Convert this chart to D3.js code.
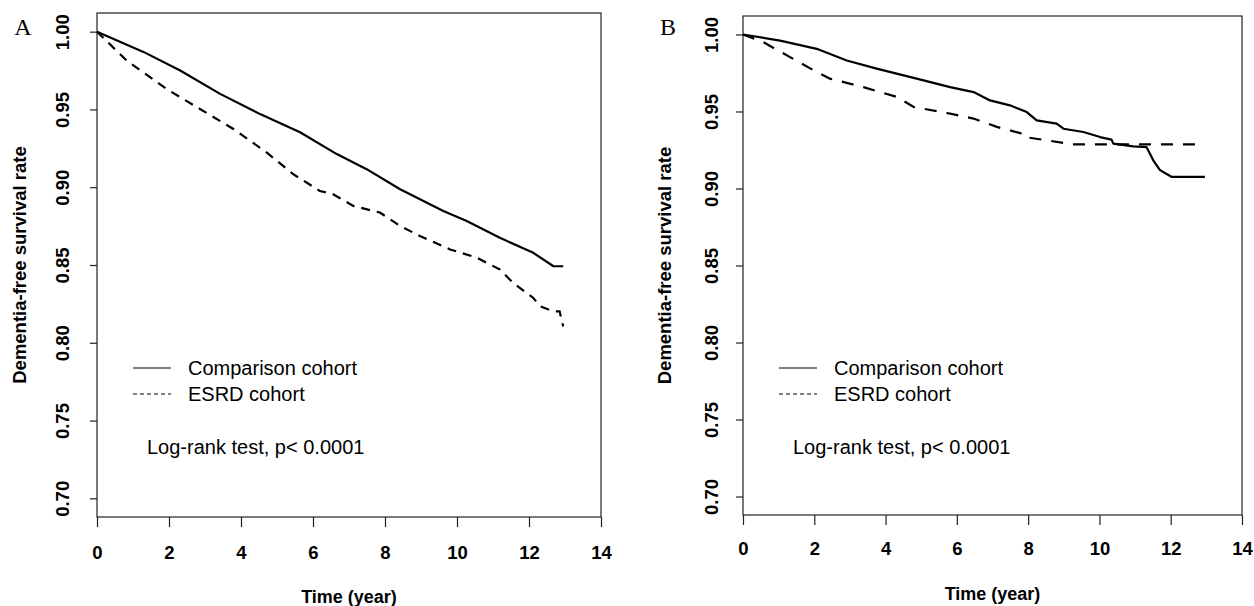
<!DOCTYPE html>
<html>
<head>
<meta charset="utf-8">
<script src="https://cdn.jsdelivr.net/npm/d3@7"></script>
<style>
  body { margin: 0; background: #fff; }
  text { font-family: "Liberation Sans", Arial, sans-serif; fill: #000; }
</style>
</head>
<body>
<script>
// Data: [time (year), dementia-free survival rate]
const xTicks = [0, 2, 4, 6, 8, 10, 12, 14];
const yTicks = [0.70, 0.75, 0.80, 0.85, 0.90, 0.95, 1.00];
const legendLabels = ["Comparison cohort", "ESRD cohort"];
const testLabel = "Log-rank test, p< 0.0001";
const yTitle = "Dementia-free survival rate";
const xTitle = "Time (year)";

// Panel A
const comparisonA = [[0, 1.0], [1.29, 0.987], [2.31, 0.975], [3.42, 0.960], [4.53, 0.947], [5.64, 0.9353],
  [6.66, 0.9213], [7.49, 0.9116], [8.42, 0.8987], [9.62, 0.8847], [10.27, 0.8783], [11.19, 0.8675],
  [12.12, 0.8578], [12.68, 0.8492], [12.95, 0.8492]];
const esrdA = [[0, 1.0], [0.82, 0.9815], [1.93, 0.9632], [2.86, 0.9503], [3.79, 0.9374], [4.71, 0.9224],
  [5.45, 0.9084], [6.19, 0.8976], [6.56, 0.8955], [7.12, 0.888], [7.86, 0.8837], [8.42, 0.8751],
  [8.97, 0.8686], [9.81, 0.860], [10.55, 0.8547], [11.19, 0.8471], [11.56, 0.8385], [12.12, 0.8288],
  [12.31, 0.8234], [12.68, 0.8202], [12.85, 0.8202], [12.95, 0.8105]];

// Panel B
const comparisonB = [[0, 1.0], [1.04, 0.996], [2.07, 0.9907], [2.91, 0.9831], [3.75, 0.9778], [4.87, 0.9713],
  [5.81, 0.9658], [6.47, 0.9626], [6.93, 0.9572], [7.49, 0.954], [7.96, 0.9496], [8.24, 0.9442],
  [8.80, 0.9421], [8.99, 0.9388], [9.55, 0.9367], [10.02, 0.9334], [10.34, 0.9317], [10.39, 0.9291],
  [10.95, 0.9274], [11.32, 0.9269], [11.51, 0.9183], [11.70, 0.9119], [12.02, 0.9076], [12.96, 0.9076]];
const esrdB = [[0, 1.0], [0.57, 0.995], [1.32, 0.9853], [2.07, 0.9756], [2.44, 0.9713], [3.38, 0.9658],
  [4.32, 0.9594], [4.79, 0.9529], [5.81, 0.9486], [6.47, 0.9454], [7.12, 0.940], [7.82, 0.9357],
  [7.87, 0.9335], [8.52, 0.9313], [9.22, 0.9287], [12.96, 0.9287]];

const width = 1254, height = 606;

const svg = d3.select("body").append("svg")
    .attr("width", width)
    .attr("height", height);

function drawPanel(p) {
    const x = d3.scaleLinear().domain([0, 14]).range([p.left, p.right]);
    const y = d3.scaleLinear().domain([0.688, 1.012]).range([p.bottom, p.top]);
    const g = svg.append("g");

    // box
    g.append("rect")
        .attr("x", p.left).attr("y", p.top)
        .attr("width", p.right - p.left).attr("height", p.bottom - p.top)
        .attr("fill", "none").attr("stroke", "#222").attr("stroke-width", 1.2);

    // bottom axis
    const xAxis = g.append("g")
        .attr("transform", "translate(0," + p.bottom + ")")
        .call(d3.axisBottom(x).tickValues(xTicks).tickSize(10).tickSizeOuter(0).tickFormat(d3.format("d")));
    xAxis.select(".domain").remove();
    xAxis.selectAll("line").attr("stroke", "#222").attr("stroke-width", 1.2);
    xAxis.selectAll("text")
        .attr("font-size", 18.5).attr("font-weight", "bold")
        .attr("font-family", "Liberation Sans, Arial, sans-serif")
        .attr("y", p.xLabelY - p.bottom).attr("dy", "0.35em");

    // left axis, labels turned upright along the axis
    const yAxis = g.append("g")
        .attr("transform", "translate(" + p.left + ",0)")
        .call(d3.axisLeft(y).tickValues(yTicks).tickSize(7).tickSizeOuter(0).tickFormat(d3.format(".2f")));
    yAxis.select(".domain").remove();
    yAxis.selectAll("line").attr("stroke", "#222").attr("stroke-width", 1.2);
    yAxis.selectAll(".tick text")
        .attr("font-size", 18.5).attr("font-weight", "bold")
        .attr("font-family", "Liberation Sans, Arial, sans-serif")
        .attr("x", 0).attr("y", 0).attr("dy", "0.35em")
        .attr("text-anchor", "middle")
        .attr("transform", "translate(" + (p.yLabelX - p.left) + ",0) rotate(-90)");

    // axis titles
    g.append("text")
        .attr("x", (p.left + p.right) / 2).attr("y", p.xTitleY)
        .attr("text-anchor", "middle").attr("dy", "0.35em")
        .attr("font-size", 18).attr("font-weight", "bold")
        .text(xTitle);
    g.append("text")
        .attr("transform", "translate(" + p.yTitleX + "," + (p.top + p.bottom) / 2 + ") rotate(-90)")
        .attr("text-anchor", "middle").attr("dy", "0.35em")
        .attr("font-size", 18.5).attr("font-weight", "bold")
        .text(yTitle);

    // panel letter
    g.append("text")
        .attr("x", p.letterX).attr("y", 27).attr("dy", "0.35em")
        .attr("text-anchor", "middle")
        .style("font-family", "Liberation Serif, Times New Roman, serif")
        .attr("font-size", 24)
        .text(p.letter);

    // curves
    const line = d3.line().x(d => x(d[0])).y(d => y(d[1]));
    g.append("path").datum(p.comparison)
        .attr("fill", "none").attr("stroke", "#000").attr("stroke-width", 2.2)
        .attr("stroke-linejoin", "round")
        .attr("d", line);
    g.append("path").datum(p.esrd)
        .attr("fill", "none").attr("stroke", "#000").attr("stroke-width", 2.2)
        .attr("stroke-dasharray", p.dash)
        .attr("d", line);

    // legend
    const lx = p.left + 36;
    const rows = [{ label: legendLabels[0], dash: null, y: p.legendY },
                  { label: legendLabels[1], dash: "4,3", y: p.legendY + 26 }];
    rows.forEach(r => {
        g.append("line")
            .attr("x1", lx).attr("x2", lx + 38)
            .attr("y1", r.y).attr("y2", r.y)
            .attr("stroke", "#000").attr("stroke-width", 1)
            .attr("stroke-dasharray", r.dash);
        g.append("text")
            .attr("x", lx + 55).attr("y", r.y).attr("dy", "0.35em")
            .attr("font-size", 20)
            .text(r.label);
    });
    g.append("text")
        .attr("x", p.left + 50).attr("y", p.legendY + 79).attr("dy", "0.35em")
        .attr("font-size", 20)
        .text(testLabel);
}

drawPanel({ letter: "A", letterX: 23, left: 97, right: 601, top: 13, bottom: 517,
    xLabelY: 553, yLabelX: 63, xTitleY: 597, yTitleX: 20, legendY: 368, dash: "9,7",
    comparison: comparisonA, esrd: esrdA });
drawPanel({ letter: "B", letterX: 668, left: 743, right: 1242, top: 16, bottom: 515,
    xLabelY: 549, yLabelX: 712, xTitleY: 594, yTitleX: 665, legendY: 368, dash: "12,10",
    comparison: comparisonB, esrd: esrdB });
</script>
</body>
</html>
